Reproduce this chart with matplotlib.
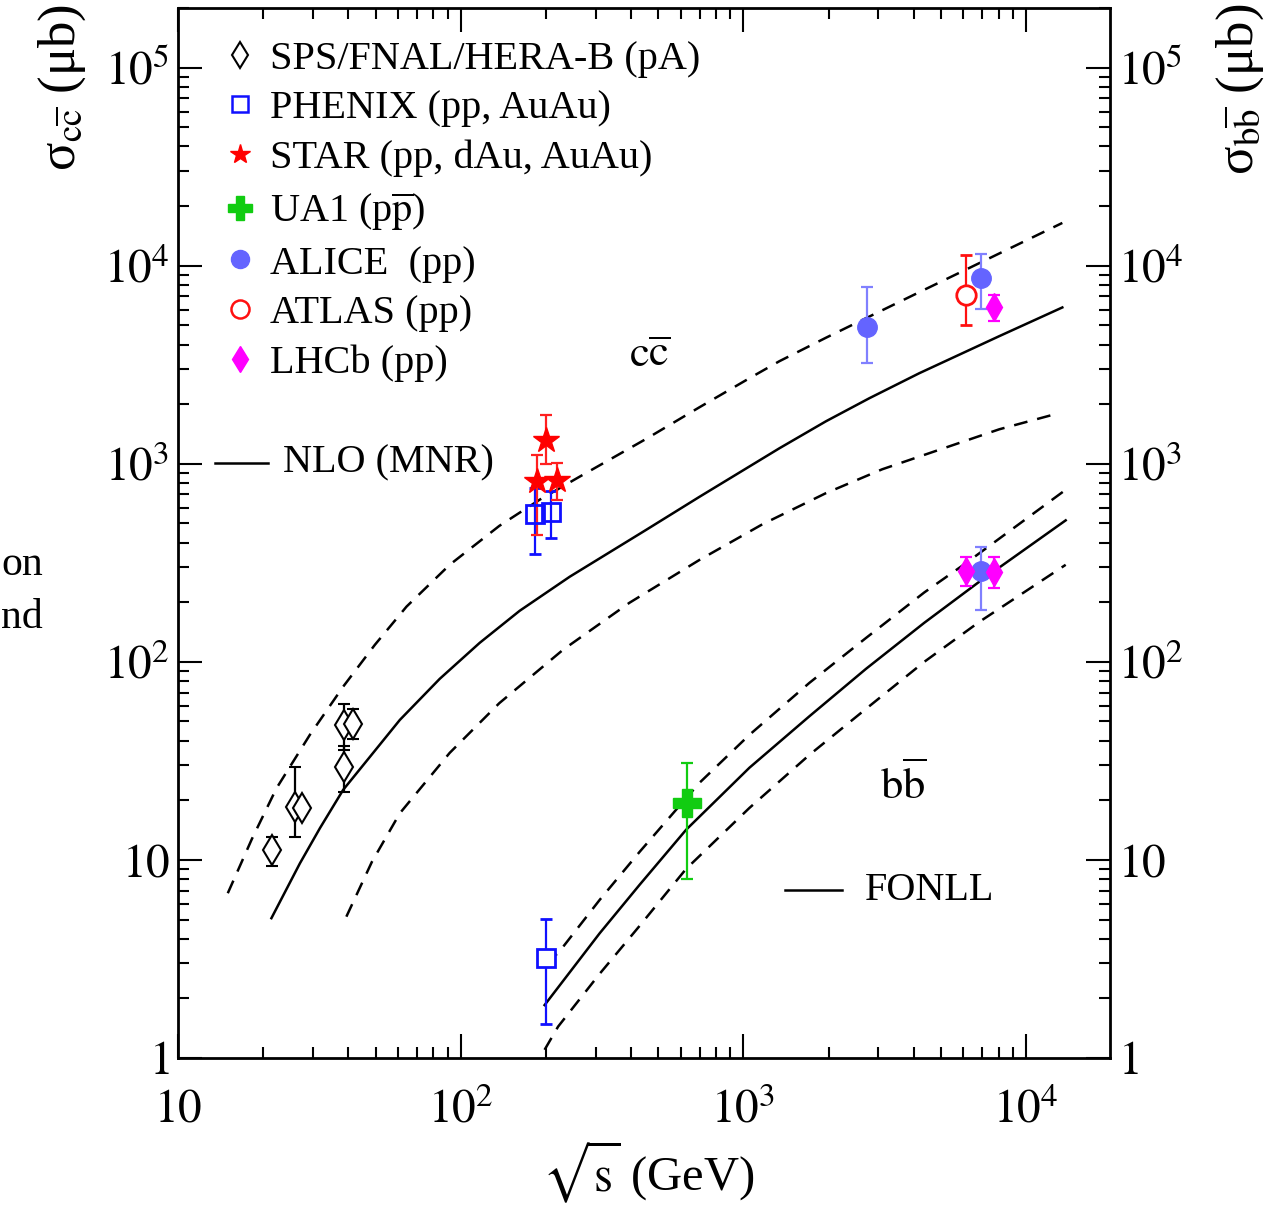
import numpy as np
import matplotlib
matplotlib.use('Agg')
import matplotlib.pyplot as plt
from matplotlib.lines import Line2D
from matplotlib.ticker import FuncFormatter, LogLocator

plt.rcParams['font.family'] = ['Liberation Serif', 'DejaVu Serif']
plt.rcParams['mathtext.fontset'] = 'stix'

# ---- data (sqrt(s) in GeV, sigma in microbarn) ----
# SPS/FNAL/HERA-B (pA), c cbar
sps_x = [21.5, 25.9, 27.4, 38.6, 38.6, 41.6]
sps_y = [11.2, 18.6, 18.2, 29.4, 48.1, 48.6]
sps_lo = [9.3, 13.1, 17.2, 22.1, 36.0, 40.7]
sps_hi = [13.0, 29.4, 19.2, 37.4, 61.4, 57.7]

# PHENIX c cbar
phx_cc_x = [182.6, 209]
phx_cc_y = [557, 572]
phx_cc_lo = [351, 424]
phx_cc_hi = [754, 731]

# PHENIX b bbar
phx_bb_x = [200]
phx_bb_y = [3.19]
phx_bb_lo = [1.48]
phx_bb_hi = [5.04]

# STAR c cbar
star_x = [199.5, 186, 219]
star_y = [1322, 814, 830]
star_lo = [997, 438, 658]
star_hi = [1754, 1110, 1008]

# UA1 b bbar
ua1_x = [632]
ua1_y = [19.3]
ua1_lo = [8.0]
ua1_hi = [30.9]

# ALICE c cbar and b bbar
alice_cc_x = [2735, 6918]
alice_cc_y = [4880, 8670]
alice_cc_lo = [3226, 6070]
alice_cc_hi = [7780, 11460]
alice_bb_x = [6918]
alice_bb_y = [286]
alice_bb_lo = [182]
alice_bb_hi = [380]

# ATLAS c cbar
atlas_x = [6120]
atlas_y = [7140]
atlas_lo = [5035]
atlas_hi = [11300]

# LHCb c cbar and b bbar
lhcb_cc_x = [7710]
lhcb_cc_y = [6190]
lhcb_cc_lo = [5235]
lhcb_cc_hi = [7080]
lhcb_bb_x = [6120, 7710]
lhcb_bb_y = [289, 283]
lhcb_bb_lo = [242, 236]
lhcb_bb_hi = [338, 338]

# NLO (MNR) c cbar: central and band
nlo_x = [21.4, 27.0, 31.8, 38.4, 47.7, 60.9, 84.3, 116.7, 161.6, 243, 453, 699,
         1340, 1959, 2788, 4188, 8028, 13430]
nlo_y = [5.08, 9.62, 14.5, 22.6, 33.1, 50.9, 82.1, 124.7, 181, 269, 464, 681,
         1197, 1639, 2142, 2865, 4406, 6155]
nlo_up_x = [15.0, 18.26, 22.3, 29.27, 38.4, 49.7, 64.3, 91.4, 137, 190, 259, 453, 699,
            1050, 1340, 1959, 4188, 13430]
nlo_up_y = [6.79, 12.77, 23.0, 42.8, 75.0, 121.9, 190, 309, 486, 658, 849, 1336, 1929,
            2703, 3294, 4329, 7350, 16440]
nlo_lo_x = [39.4, 48.5, 60.9, 91.4, 137, 230, 395, 699, 1167, 1959, 3097, 4930, 8035, 13090]
nlo_lo_y = [5.17, 9.77, 17.2, 34.7, 61.9, 115, 198.6, 327, 494.8, 711, 938, 1177, 1493, 1803]

# FONLL b bbar: central and band
fonll_x = [198, 310, 429, 627, 1050, 1711, 2714, 4361, 6823, 13800]
fonll_y = [1.85, 4.26, 7.48, 14.2, 29.2, 53.1, 92.2, 157.4, 253.6, 518]
fonll_up_x = [200, 221, 310, 429, 699, 1050, 1711, 2714, 4361, 6124, 13800]
fonll_up_y = [3.05, 3.38, 6.28, 10.97, 24.5, 42.8, 78.3, 132, 224, 315, 739]
fonll_lo_x = [198, 221, 310, 429, 627, 1050, 1711, 2714, 4361, 6823, 13800]
fonll_lo_y = [1.10, 1.44, 2.66, 4.64, 9.01, 18.3, 33.9, 57.9, 100, 159, 309]


def yerr(y, lo, hi):
    y = np.array(y)
    return [y - np.array(lo), np.array(hi) - y]


W, H = 1276, 1205
fig = plt.figure(figsize=(W / 100, H / 100), dpi=100)
ax = fig.add_axes([178 / W, 1 - 1058 / H, 932 / W, 1050 / H])
ax.set_xscale('log')
ax.set_yscale('log')
ax.set_xlim(10, 1.98e4)
ax.set_ylim(1, 2e5)

lw = 1.8
dash = (0, (5.5, 4))
ax.plot(nlo_x, nlo_y, color='black', lw=lw)
ax.plot(nlo_up_x, nlo_up_y, color='black', lw=lw, linestyle=dash)
ax.plot(nlo_lo_x, nlo_lo_y, color='black', lw=lw, linestyle=dash)
ax.plot(fonll_x, fonll_y, color='black', lw=lw)
ax.plot(fonll_up_x, fonll_up_y, color='black', lw=lw, linestyle=dash)
ax.plot(fonll_lo_x, fonll_lo_y, color='black', lw=lw, linestyle=dash)

eb = dict(linestyle='none', capsize=4, elinewidth=1.6, capthick=1.6)
ax.errorbar(sps_x, sps_y, yerr=yerr(sps_y, sps_lo, sps_hi), marker='d', ms=15,
            mfc='white', mec='black', mew=1.5, color='black', **eb)
ax.errorbar(phx_cc_x, phx_cc_y, yerr=yerr(phx_cc_y, phx_cc_lo, phx_cc_hi), marker='s', ms=13,
            mfc='none', mec='#1010ff', mew=2, color='#1010ff', **eb)
ax.errorbar(phx_bb_x, phx_bb_y, yerr=yerr(phx_bb_y, phx_bb_lo, phx_bb_hi), marker='s', ms=13,
            mfc='white', mec='#1010ff', mew=2, color='#1010ff', **eb)
ax.errorbar(star_x, star_y, yerr=yerr(star_y, star_lo, star_hi), marker='*', ms=19,
            mfc='#ff0000', mec='#ff0000', color='#ff2020', **eb)
ax.errorbar(ua1_x, ua1_y, yerr=yerr(ua1_y, ua1_lo, ua1_hi), marker='P', ms=20,
            mfc='#11cc11', mec='#11cc11', color='#11cc11', **eb)
ax.errorbar(alice_cc_x, alice_cc_y, yerr=yerr(alice_cc_y, alice_cc_lo, alice_cc_hi), marker='o', ms=14,
            mfc='#6464ff', mec='#6464ff', color='#8080ff', **eb)
ax.errorbar(alice_bb_x, alice_bb_y, yerr=yerr(alice_bb_y, alice_bb_lo, alice_bb_hi), marker='o', ms=14,
            mfc='#6464ff', mec='#6464ff', color='#8080ff', **eb)
ax.errorbar(atlas_x, atlas_y, yerr=yerr(atlas_y, atlas_lo, atlas_hi), marker='o', ms=14,
            mfc='white', mec='#ff1010', mew=2, color='#ff1010', **eb)
ax.errorbar(lhcb_cc_x, lhcb_cc_y, yerr=yerr(lhcb_cc_y, lhcb_cc_lo, lhcb_cc_hi), marker='d', ms=14,
            mfc='#ff00ff', mec='#ff00ff', color='#ff00ff', **eb)
ax.errorbar(lhcb_bb_x, lhcb_bb_y, yerr=yerr(lhcb_bb_y, lhcb_bb_lo, lhcb_bb_hi), marker='d', ms=14,
            mfc='#ff00ff', mec='#ff00ff', color='#ff00ff', **eb)

# legend
handles = [
    Line2D([], [], ls='none', marker='d', ms=13, mfc='white', mec='black', mew=1.5),
    Line2D([], [], ls='none', marker='s', ms=12, mfc='none', mec='#1010ff', mew=1.8),
    Line2D([], [], ls='none', marker='*', ms=15, mfc='#ff0000', mec='#ff0000'),
    Line2D([], [], ls='none', marker='P', ms=17, mfc='#11cc11', mec='#11cc11'),
    Line2D([], [], ls='none', marker='o', ms=13, mfc='#6464ff', mec='#6464ff'),
    Line2D([], [], ls='none', marker='o', ms=13, mfc='white', mec='#ff1010', mew=1.8),
    Line2D([], [], ls='none', marker='d', ms=13, mfc='#ff00ff', mec='#ff00ff'),
]
labels = ['SPS/FNAL/HERA-B (pA)', 'PHENIX (pp, AuAu)', 'STAR (pp, dAu, AuAu)',
          r'UA1 (p$\overline{\mathrm{p}}$)', 'ALICE  (pp)', 'ATLAS (pp)', 'LHCb (pp)']
ax.legend(handles, labels, loc='upper left', bbox_to_anchor=(0.045, 0.969), frameon=False,
          fontsize=29, handlelength=1.0, handletextpad=0.25, labelspacing=0.31,
          borderpad=0, borderaxespad=0)

# theory keys and labels
ax.plot([0.0397, 0.0966], [0.5667, 0.5667], color='black', lw=lw, transform=ax.transAxes)
ax.text(0.1127, 0.5667, 'NLO (MNR)', transform=ax.transAxes, fontsize=29, va='center', ha='left')
ax.plot([0.651, 0.7125], [0.16, 0.16], color='black', lw=lw, transform=ax.transAxes)
ax.text(0.737, 0.16, 'FONLL', transform=ax.transAxes, fontsize=29, va='center', ha='left')
ax.text(0.506, 0.6695, r'$\mathrm{c\overline{c}}$', transform=ax.transAxes, fontsize=32,
        va='center', ha='center')
ax.text(0.778, 0.26, r'$\mathrm{b\overline{b}}$', transform=ax.transAxes, fontsize=32,
        va='center', ha='center')


def fmt(v, pos):
    e = int(round(np.log10(v)))
    if e == 0:
        return r'$1$'
    if e == 1:
        return r'$10$'
    return r'$10^{%d}$' % e


ax.xaxis.set_major_locator(LogLocator(base=10, numticks=10))
ax.yaxis.set_major_locator(LogLocator(base=10, numticks=10))
ax.xaxis.set_major_formatter(FuncFormatter(fmt))
ax.yaxis.set_major_formatter(FuncFormatter(fmt))
ax.tick_params(which='both', direction='in', top=True, right=True, labelright=True,
               width=1.5, labelsize=34)
ax.tick_params(which='major', length=17)
ax.tick_params(which='minor', length=8)
ax.tick_params(axis='x', which='major', pad=22)
ax.tick_params(axis='y', which='major', pad=6)
for s in ax.spines.values():
    s.set_linewidth(2)

fig.text(0.5 * (548 + 748) / W, 1 - 1172 / H, r'$\sqrt{\mathrm{s}}$ (GeV)', fontsize=35,
         ha='center', va='center')
fig.text(62 / W, 1 - 4 / H, r'σ$_{\mathrm{c\overline{c}}}$ (μb)', fontsize=38,
         rotation=90, ha='center', va='top')
fig.text(1240 / W, 1 - 4 / H, r'σ$_{\mathrm{b\overline{b}}}$ (μb)', fontsize=38,
         rotation=90, ha='center', va='top')

# stray text cut from the surrounding page
fig.text(43 / W, 1 - 565 / H, 'on', fontsize=30, ha='right', va='center')
fig.text(43 / W, 1 - 618 / H, 'nd', fontsize=30, ha='right', va='center')

fig.savefig('out.png', dpi=100)
